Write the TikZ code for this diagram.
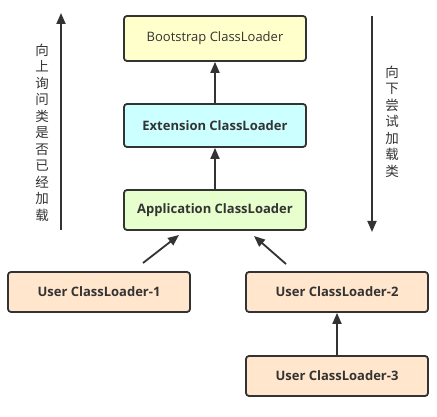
\documentclass[tikz,border=0pt]{standalone}
\usepackage{fontspec}
\setmainfont{Open Sans}
\newfontfamily\cjk{Noto Sans CJK SC}
\usetikzlibrary{arrows.meta}
\definecolor{bsfill}{HTML}{FFFFCC}
\definecolor{exfill}{HTML}{CCFFFF}
\definecolor{apfill}{HTML}{E6FFCC}
\definecolor{usfill}{HTML}{FFE6CC}
\definecolor{edge}{HTML}{333333}
\tikzset{
  box/.style={draw=edge, line width=1.8pt, rounded corners=3pt, minimum width=182pt, minimum height=43pt, inner sep=0pt, font=\fontsize{13}{15}\selectfont\bfseries, text=edge},
  conn/.style={draw=edge, line width=1.8pt, -{Triangle[length=11pt,width=9pt]}},
  vtext/.style={font=\cjk\fontsize{13.5}{16.5}\selectfont, align=center, text=edge, inner sep=0pt}
}
\begin{document}
\begin{tikzpicture}[x=1pt,y=-1pt]
\useasboundingbox (0,0) rectangle (437,417);
\node[box, fill=bsfill, minimum height=45pt, font=\fontsize{13}{15}\selectfont] (bs) at (215,38.5) {Bootstrap ClassLoader};
\node[box, fill=exfill] (ex) at (215,125.5) {Extension ClassLoader};
\node[box, fill=apfill, minimum height=40pt] (ap) at (215,210) {Application ClassLoader};
\node[box, fill=usfill, minimum height=40pt] (u1) at (99,292) {User ClassLoader-1};
\node[box, fill=usfill, minimum height=40pt] (u2) at (337,292) {User ClassLoader-2};
\node[box, fill=usfill, minimum height=40pt] (u3) at (337,376) {User ClassLoader-3};
\draw[conn] (ex.north) -- (bs.south);
\draw[conn] (ap.north) -- (ex.south);
\draw[conn] (u3.north) -- (u2.south);
\coordinate (a1s) at (143,263);
\coordinate (a1e) at (179,235);
\coordinate (a2s) at (286,264);
\coordinate (a2e) at (254,236);
\draw[conn] (a1s) -- (a1e);
\draw[conn] (a2s) -- (a2e);
\coordinate (l1) at (61,230);
\coordinate (l2) at (61,13);
\coordinate (r1) at (372,16);
\coordinate (r2) at (372,232);
\draw[conn] (l1) -- (l2);
\draw[conn] (r1) -- (r2);
\node[vtext] (lt) at (42,132.5) {向\\上\\询\\问\\类\\是\\否\\已\\经\\加\\载};
\node[vtext] (rt) at (392,121.5) {向\\下\\尝\\试\\加\\载\\类};
\end{tikzpicture}
\end{document}
